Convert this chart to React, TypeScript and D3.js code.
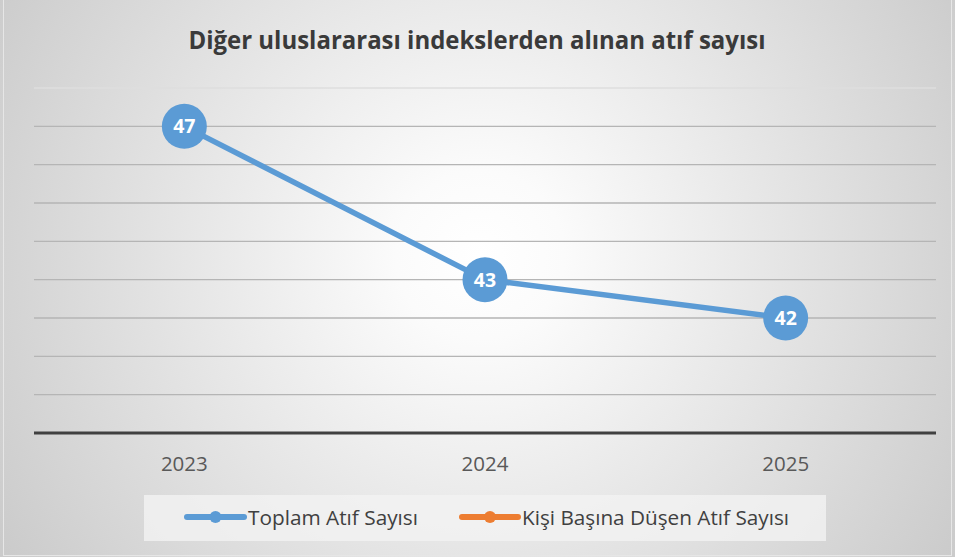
import React from "react";
import * as d3 from "d3";

const years = ["2023", "2024", "2025"];
const totalCitations = [47, 43, 42];
const perPersonCitations: (number | null)[] = [null, null, null];
const yTicks = [39, 40, 41, 42, 43, 44, 45, 46, 47, 48];
const seriesNames = ["Toplam Atıf Sayısı", "Kişi Başına Düşen Atıf Sayısı"];
const seriesColors = ["#5b9bd5", "#ed7d31"];
const title = "Diğer uluslararası indekslerden alınan atıf sayısı";

const W = 955;
const H = 557;

export default function App() {
  const x = d3.scaleBand<string>().domain(years).range([34, 936]).padding(0);
  const y = d3.scaleLinear().domain([39, 48]).range([433, 88]);
  const cx = (d: string) => (x(d) as number) + x.bandwidth() / 2;

  const line = d3
    .line<number>()
    .x((_, i) => cx(years[i]))
    .y((d) => y(d));

  const perLine = d3
    .line<number | null>()
    .defined((d) => d !== null)
    .x((_, i) => cx(years[i]))
    .y((d) => y(d as number));

  const font = "'Open Sans', 'DejaVu Sans', sans-serif";

  const legendItems = [
    { name: seriesNames[0], color: seriesColors[0], x0: 187, x1: 244, tx: 248, tl: 170 },
    { name: seriesNames[1], color: seriesColors[1], x0: 462, x1: 518, tx: 522, tl: 267 },
  ];

  return (
    <svg
      width={W}
      height={H}
      viewBox={`0 0 ${W} ${H}`}
      style={{ position: "absolute", left: 0, top: 0, display: "block" }}
    >
      <defs>
        <radialGradient id="bg" gradientUnits="userSpaceOnUse" cx={480} cy={255} r={560}>
          <stop offset="0" stopColor="#ffffff" />
          <stop offset="0.15" stopColor="#fbfbfb" />
          <stop offset="1" stopColor="#cbcbcb" />
        </radialGradient>
      </defs>
      <rect x={0} y={0} width={W} height={H} fill="url(#bg)" />
      <rect x={3.5} y={-1} width={948} height={556.5} fill="none" stroke="#e6e6e6" strokeWidth={1} />

      <text
        x={477}
        y={49}
        textAnchor="middle"
        fontFamily={font}
        fontWeight={700}
        fontSize={25.5}
        fill="#3a3a3a"
        textLength={577}
        lengthAdjust="spacingAndGlyphs"
      >
        {title}
      </text>

      {yTicks.slice(1).map((t) => (
        <line
          key={t}
          x1={34}
          x2={936}
          y1={y(t)}
          y2={y(t)}
          stroke={t === 48 ? "#dedede" : "#b5b5b5"}
          strokeWidth={1.3}
        />
      ))}
      <line x1={34} x2={936} y1={y(39)} y2={y(39)} stroke="#404040" strokeWidth={3} />

      {years.map((yr) => (
        <text
          key={yr}
          x={cx(yr)}
          y={471}
          textAnchor="middle"
          fontFamily={font}
          fontSize={20.5}
          fill="#595959"
        >
          {yr}
        </text>
      ))}

      <path
        d={perLine(perPersonCitations) || ""}
        fill="none"
        stroke={seriesColors[1]}
        strokeWidth={5.5}
      />
      <path
        d={line(totalCitations) || ""}
        fill="none"
        stroke={seriesColors[0]}
        strokeWidth={5.5}
        strokeLinejoin="round"
      />
      {totalCitations.map((v, i) => (
        <g key={i}>
          <circle cx={cx(years[i])} cy={y(v)} r={22.5} fill={seriesColors[0]} />
          <text
            x={cx(years[i])}
            y={y(v) + 7}
            textAnchor="middle"
            fontFamily={font}
            fontWeight={700}
            fontSize={19.5}
            fill="#ffffff"
          >
            {v}
          </text>
        </g>
      ))}

      <rect x={144} y={495} width={682} height={46} fill="#f2f2f2" fillOpacity={0.8} />
      {legendItems.map((it) => (
        <g key={it.name}>
          <line
            x1={it.x0}
            x2={it.x1}
            y1={517}
            y2={517}
            stroke={it.color}
            strokeWidth={6}
            strokeLinecap="round"
          />
          <circle cx={(it.x0 + it.x1) / 2} cy={517} r={6} fill={it.color} />
          <text
            x={it.tx}
            y={525}
            fontFamily={font}
            fontSize={20.5}
            fill="#404040"
            textLength={it.tl}
            lengthAdjust="spacingAndGlyphs"
          >
            {it.name}
          </text>
        </g>
      ))}
    </svg>
  );
}
